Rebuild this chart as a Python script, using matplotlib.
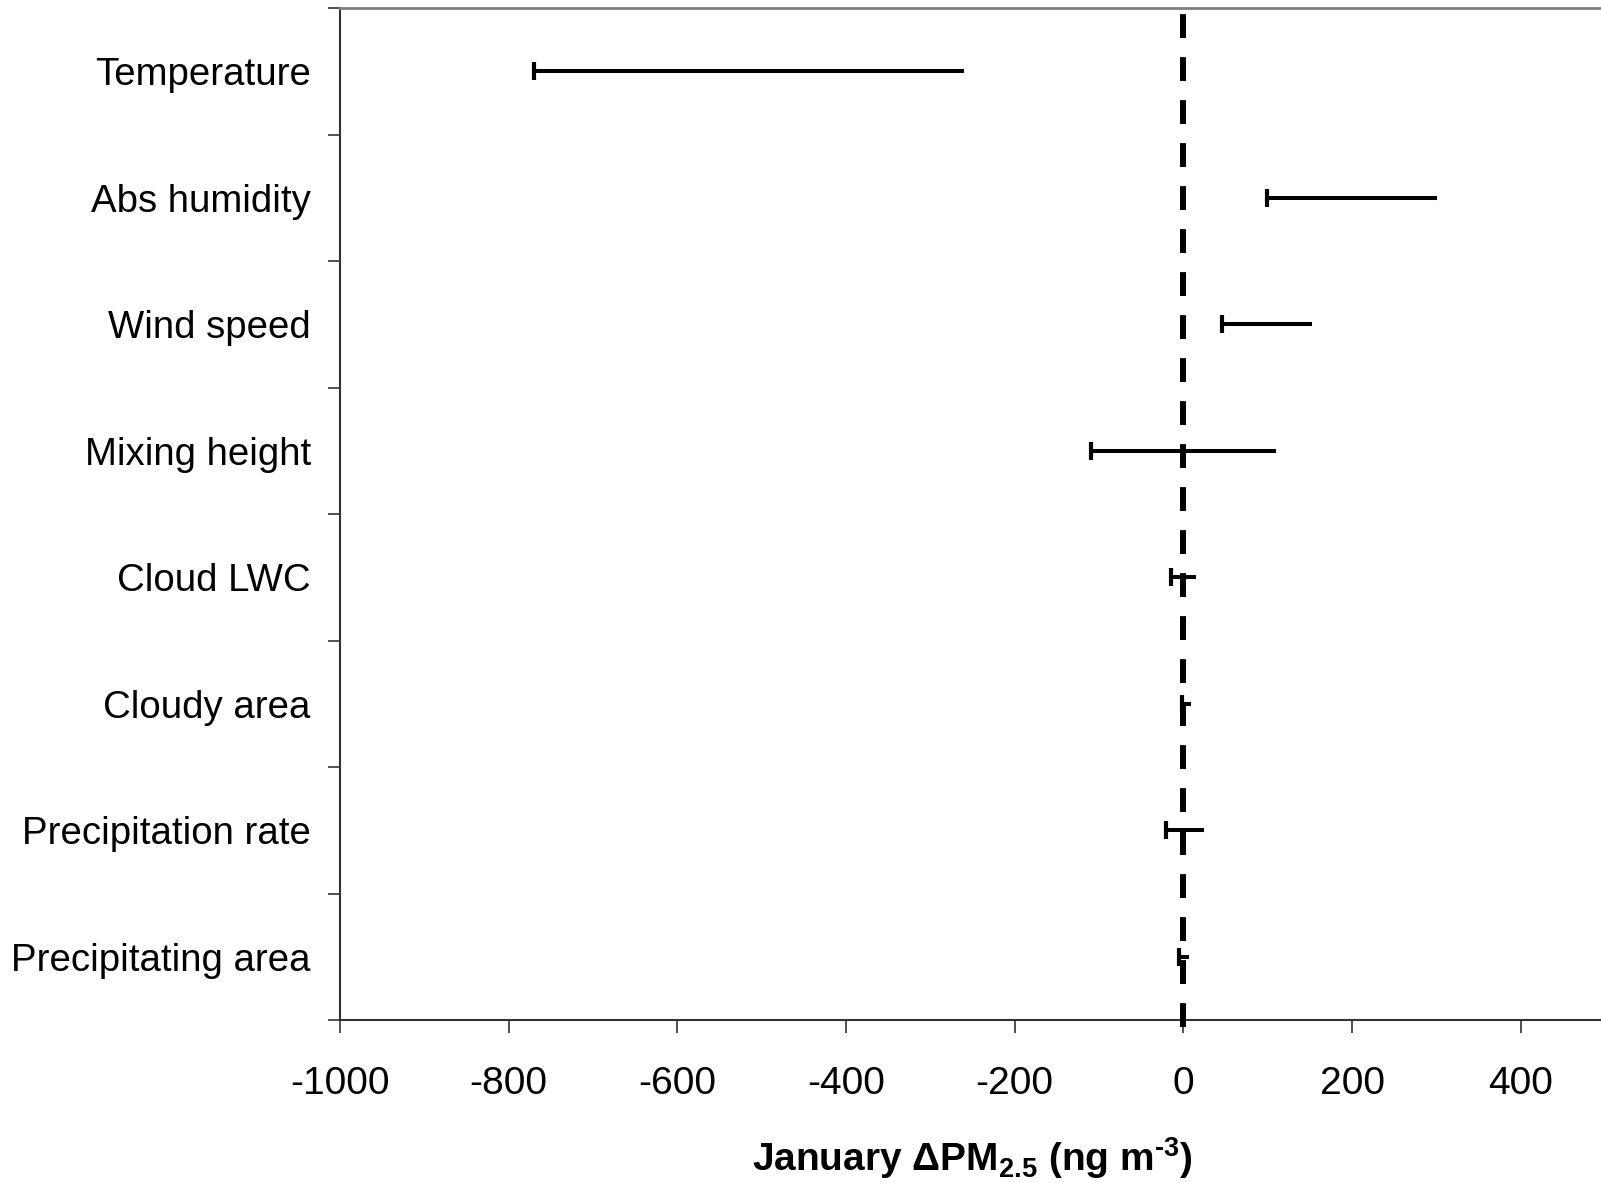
import numpy as np
import matplotlib
matplotlib.use("Agg")
from matplotlib import pyplot as plt

plt.rcParams['font.family'] = ['Liberation Sans', 'DejaVu Sans']
plt.rcParams['axes.unicode_minus'] = False
plt.rcParams['mathtext.fontset'] = 'custom'
plt.rcParams['mathtext.rm'] = 'Liberation Sans:bold'
plt.rcParams['mathtext.bf'] = 'Liberation Sans:bold'
plt.rcParams['mathtext.default'] = 'rm'

# data, top to bottom
variables = ["Temperature", "Abs humidity", "Wind speed", "Mixing height",
             "Cloud LWC", "Cloudy area", "Precipitation rate", "Precipitating area"]
low  = [-770, 99, 46, -110, -15, -1, -20, -5]
high = [-260, 301, 153, 110, 15, 9, 24, 7]
xticks = [-1000, -800, -600, -400, -200, 0, 200, 400]

n = len(variables)
ypos = n - 0.5 - np.arange(n)

fig = plt.figure(figsize=(16.01, 11.83), dpi=100)
ax = fig.add_axes([340/1601, 1 - 1020/1183, 1265/1601, 1012/1183])

for y, lo, hi in zip(ypos, low, high):
    ax.plot([lo, hi], [y, y], color='black', lw=2.9, solid_capstyle='butt')
    ax.plot([lo], [y], marker='|', color='black', markersize=13, mew=3)

ax.axvline(0, ymin=-0.007, ymax=1.004, color='black', lw=4.3,
           dashes=(4, 3.2), clip_on=False, zorder=5)

ax.set_xlim(-1000, 500)
ax.set_ylim(0, n)
ax.set_xticks(xticks)
ax.set_xticklabels([str(v) for v in xticks], fontsize=28)
ax.set_yticks(range(n + 1))
ax.set_yticklabels([])
ax.set_yticks(ypos, minor=True)
ax.set_yticklabels(variables, minor=True, fontsize=27.6)
ax.tick_params(axis='y', which='minor', length=0, pad=21)
ax.tick_params(axis='y', which='major', length=9, width=1.2, color='#333333')
ax.tick_params(axis='x', length=9, width=1.2, color='#333333', pad=24)

for s in ['left', 'bottom', 'right']:
    ax.spines[s].set_color('#333333')
    ax.spines[s].set_linewidth(1.5)
ax.spines['top'].set_color('#808080')
ax.spines['top'].set_linewidth(2)

ax.set_xlabel('January $\\Delta$PM$_{2.5}$ (ng m$^{\u20103}$)', fontsize=28,
              fontweight='bold', labelpad=24)

fig.savefig("out.png", dpi=100)
